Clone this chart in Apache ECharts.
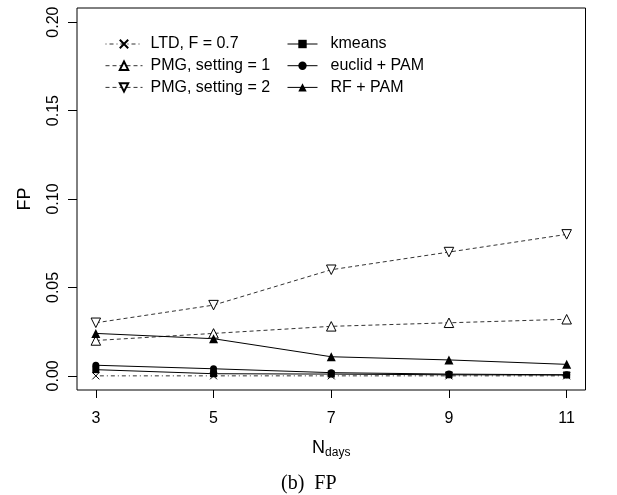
<!DOCTYPE html>
<html>
<head>
<meta charset="utf-8">
<script src="https://cdn.jsdelivr.net/npm/echarts@6/dist/echarts.min.js"></script>
<style>
  html, body { margin: 0; padding: 0; background: #fff; }
  #chart { width: 617px; height: 495px; }
</style>
</head>
<body>
<div id="chart"></div>
<script>
// Number of days used for each setting
var nDays = [3, 5, 7, 9, 11];

// False-positive rates per method
var ltd     = [0.0000, 0.0000, 0.0000, 0.0000, 0.0000];
var pmg1    = [0.020, 0.024, 0.028, 0.030, 0.032];
var pmg2    = [0.030, 0.040, 0.060, 0.070, 0.080];
var kmeans  = [0.0035, 0.0012, 0.0010, 0.0006, 0.0005];
var euclid  = [0.0060, 0.0040, 0.0018, 0.0010, 0.0006];
var rfPam   = [0.0240, 0.0210, 0.0108, 0.0090, 0.0065];

var xTicks = [3, 5, 7, 9, 11];
var yTicks = [0, 0.05, 0.10, 0.15, 0.20];

var FONT = '"Liberation Sans", Arial, Helvetica, sans-serif';

function pairs(ys) {
  return nDays.map(function (x, i) { return [x, ys[i]]; });
}

// Diagonal cross drawn as two strokes
var crossPath = 'path://M0,0L10,10M0,10L10,0';
var openStyle = { color: '#fff', borderColor: '#000', borderWidth: 1 };

function makeSeries(name, ys, symbol, size, dash, lineColor, opts) {
  var s = {
    name: name,
    type: 'line',
    data: pairs(ys),
    symbol: symbol,
    symbolSize: size,
    showAllSymbol: true,
    z: 3,
    lineStyle: { color: lineColor, width: 1, type: dash },
    itemStyle: { color: '#000', borderColor: '#000', borderWidth: 0 },
    emphasis: { disabled: true },
    animation: false
  };
  if (opts) { for (var k in opts) s[k] = opts[k]; }
  return s;
}

var series = [
  makeSeries('LTD, F = 0.7', ltd, crossPath, 7, [1, 3, 4, 3], '#333',
    { itemStyle: { color: 'rgba(0,0,0,0)', borderColor: '#000', borderWidth: 1 } }),
  makeSeries('PMG, setting = 1', pmg1, 'triangle', 9.5, [4, 3], '#333',
    { itemStyle: openStyle }),
  makeSeries('PMG, setting = 2', pmg2, 'triangle', 9.5, [4, 3], '#333',
    { symbolRotate: 180, itemStyle: openStyle }),
  makeSeries('kmeans', kmeans, 'rect', 7, 'solid', '#000'),
  makeSeries('euclid + PAM', euclid, 'circle', 7, 'solid', '#000'),
  makeSeries('RF + PAM', rfPam, 'triangle', 9, 'solid', '#000')
];

var chart = echarts.init(document.getElementById('chart'), null, { renderer: 'canvas' });

var legendText = { fontFamily: FONT, fontSize: 16, color: '#000', lineHeight: 16 };

chart.setOption({
  backgroundColor: '#fff',
  animation: false,
  textStyle: { fontFamily: FONT, color: '#000' },
  title: {
    text: '(b)  FP',
    left: 276,
    top: 469,
    textStyle: { fontFamily: '"Liberation Serif", "Times New Roman", serif', fontSize: 20, fontWeight: 'normal', color: '#000' }
  },
  grid: {
    left: 77, right: 31.5, top: 8, bottom: 105,
    show: true, borderColor: '#000', borderWidth: 1, backgroundColor: 'transparent'
  },
  legend: [
    {
      data: ['LTD, F = 0.7', 'PMG, setting = 1', 'PMG, setting = 2'],
      orient: 'vertical',
      left: 100, top: 31,
      itemWidth: 37, itemHeight: 10.5, itemGap: 5.7,
      lineStyle: { width: 1 },
      textStyle: Object.assign({ padding: [0, 0, 0, 3] }, legendText),
      selectedMode: false
    },
    {
      data: ['kmeans', 'euclid + PAM', 'RF + PAM'],
      orient: 'vertical',
      left: 282, top: 31,
      itemWidth: 30, itemHeight: 10.5, itemGap: 5.7,
      lineStyle: { width: 1 },
      textStyle: Object.assign({ padding: [0, 0, 0, 8] }, legendText),
      selectedMode: false
    }
  ],
  xAxis: {
    type: 'value',
    min: 2.68, max: 11.32,
    name: 'N{sub|days}',
    nameLocation: 'middle',
    nameGap: 48,
    nameTextStyle: {
      fontFamily: FONT, fontSize: 18, color: '#000',
      rich: { sub: { fontFamily: FONT, fontSize: 12, color: '#000', verticalAlign: 'bottom', padding: [9, 0, 0, 0] } }
    },
    axisLine: { show: false, onZero: false },
    splitLine: { show: false },
    axisTick: { show: true, inside: false, length: 8, customValues: xTicks, lineStyle: { color: '#000' } },
    axisLabel: { customValues: xTicks, margin: 21, fontSize: 16, fontFamily: FONT, color: '#000' }
  },
  yAxis: {
    type: 'value',
    min: -0.008, max: 0.208,
    name: 'FP',
    nameLocation: 'middle',
    nameGap: 43,
    nameTextStyle: { fontFamily: FONT, fontSize: 18, color: '#000' },
    axisLine: { show: false, onZero: false },
    splitLine: { show: false },
    axisTick: { show: true, inside: false, length: 9, customValues: yTicks, lineStyle: { color: '#000' } },
    axisLabel: {
      customValues: yTicks, margin: 15, rotate: 90, fontSize: 16, fontFamily: FONT, color: '#000',
      formatter: function (v) { return v.toFixed(2); }
    }
  },
  series: series
});
</script>
</body>
</html>
